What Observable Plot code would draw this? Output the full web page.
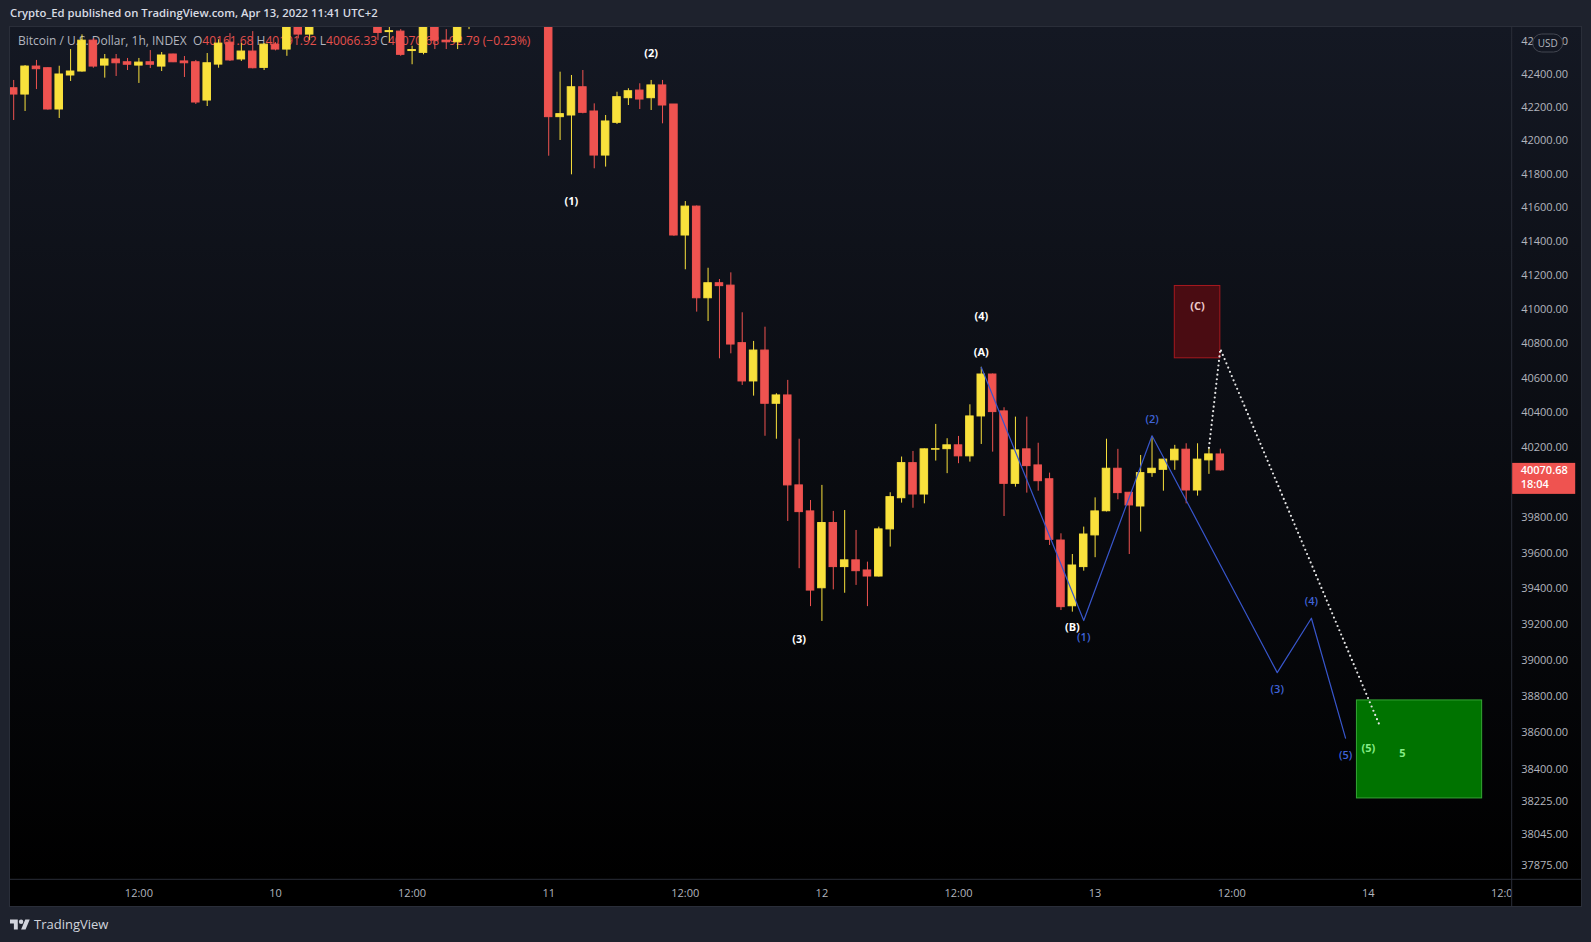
<!DOCTYPE html>
<html>
<head>
<meta charset="utf-8">
<script src="https://cdn.jsdelivr.net/npm/d3@7"></script>
<script src="https://cdn.jsdelivr.net/npm/@observablehq/plot@0.6"></script>
<style>
  html, body { margin: 0; padding: 0; background: #1e222d; width: 1591px; height: 942px; overflow: hidden; font-family: "Open Sans", sans-serif; }
  #header { position: absolute; left: 10px; top: 5px; font-size: 11.3px; font-weight: 600; color: #d8dbe3; white-space: pre; }
  #pane { position: absolute; left: 10px; top: 27px; width: 1571px; height: 879px; background: linear-gradient(#141823 0%, #000000 97%); outline: 1px solid #2a2e39; }
  #legend { position: absolute; left: 8px; top: 5px; font-size: 12px; color: #b2b5be; white-space: pre; }
  #legend .v { color: #e5504c; }
  #chart { position: absolute; left: 0; top: 0; }
  #footer { position: absolute; left: 10px; top: 915px; display: flex; align-items: center; gap: 4px; color: #d1d4dc; font-size: 13px; }
</style>
</head>
<body>
<div id="header">Crypto_Ed published on TradingView.com, Apr 13, 2022 11:41 UTC+2</div>
<div id="pane">
  <div id="legend"></div>
  <div id="chart"></div>
</div>
<div id="footer">
  <svg width="20" height="15" viewBox="0 0 36 26"><path fill="#d1d4dc" d="M14 22H7V11H0V4h14v18zM28 22h-8l7.5-18h8L28 22z"/><circle cx="20" cy="8" r="4" fill="#d1d4dc"/></svg>
  <span>TradingView</span>
</div>
<script>
// ---- Candles: BTC/USD 1h, first candle Apr 9 2022 01:00 (chart time, UTC+2) ----
const firstCandle = "2022-04-09T01:00:00Z";
const open = [
  42314, 42276, 42445, 42435, 42186, 42391, 42415, 42602, 42451, 42488,
  42471, 42451, 42471, 42445, 42518, 42476, 42471, 42240, 42457, 42590,
  42488, 42536, 42437, 42578, 42548, 42720, 42639, 42700, 42760, 42810,
  42740, 42720, 42700, 42654, 42657, 42539, 42528, 42700, 42602, 42592,
  42710, 42760, 42850, 42900, 42840, 42870, 42830, 42850, 42140, 42150,
  42320, 42174, 41910, 42106, 42254, 42300, 42254, 42331, 42216, 41435,
  41606, 41066, 41154, 41140, 40804, 40582, 40761, 40453, 40501, 39985,
  39837, 39403, 39771, 39522, 39560, 39503, 39469, 39735, 39912, 40112,
  39933, 40189, 40192, 40214, 40151, 40380, 40622, 40409, 39994, 40191,
  40099, 40020, 39672, 39302, 39522, 39701, 39838, 40080, 39943, 39865,
  40055, 40074, 40128, 40189, 39956, 40128, 40161.68
];
const high = [
  42361, 42451, 42482, 42437, 42447, 42548, 42637, 42614, 42518, 42518,
  42494, 42494, 42542, 42530, 42520, 42506, 42482, 42524, 42608, 42645,
  42584, 42657, 42584, 42590, 42720, 42760, 42730, 42790, 42840, 42850,
  42780, 42760, 42760, 42690, 42669, 42568, 42720, 42740, 42669, 42730,
  42800, 42880, 42950, 42960, 42900, 42920, 42880, 42870, 42411, 42391,
  42421, 42220, 42150, 42290, 42311, 42341, 42361, 42361, 42216, 41636,
  41610, 41242, 41176, 41215, 40981, 40814, 40897, 40511, 40588, 40249,
  39899, 39985, 39837, 39842, 39729, 39550, 39748, 39943, 40147, 40179,
  40193, 40334, 40252, 40265, 40447, 40664, 40625, 40430, 40376, 40376,
  40226, 40055, 39710, 39593, 39748, 39914, 40249, 40191, 39945, 40156,
  40265, 40134, 40214, 40223, 40223, 40195, 40191.92
];
const low = [
  42120, 42174, 42306, 42182, 42132, 42355, 42411, 42435, 42375, 42385,
  42421, 42343, 42433, 42415, 42469, 42379, 42216, 42204, 42435, 42476,
  42476, 42431, 42421, 42540, 42507, 42613, 42602, 42690, 42730, 42720,
  42685, 42690, 42602, 42592, 42507, 42456, 42516, 42548, 42548, 42548,
  42669, 42740, 42800, 42820, 42780, 42810, 42760, 41906, 42000, 41795,
  42160, 41831, 41841, 42096, 42210, 42186, 42180, 42100, 41430, 41233,
  40985, 40930, 40713, 40742, 40559, 40497, 40266, 40249, 39780, 39513,
  39300, 39217, 39394, 39375, 39419, 39300, 39466, 39635, 39884, 39855,
  39880, 40124, 40052, 40109, 40118, 40219, 40175, 39808, 39975, 39941,
  39952, 39644, 39278, 39269, 39499, 39575, 39834, 39903, 39593, 39720,
  40031, 39952, 40071, 39880, 39924, 40048, 40066.33
];
const close = [
  42276, 42445, 42429, 42186, 42397, 42415, 42602, 42445, 42488, 42465,
  42456, 42469, 42456, 42512, 42471, 42465, 42228, 42465, 42584, 42482,
  42536, 42435, 42578, 42548, 42690, 42639, 42700, 42760, 42810, 42740,
  42720, 42730, 42649, 42660, 42516, 42545, 42690, 42602, 42592, 42690,
  42760, 42850, 42900, 42840, 42870, 42830, 42850, 42140, 42158, 42320,
  42166, 41910, 42114, 42260, 42296, 42246, 42331, 42210, 41435, 41606,
  41066, 41154, 41137, 40796, 40582, 40761, 40453, 40501, 39985, 39833,
  39390, 39771, 39522, 39560, 39499, 39469, 39735, 39918, 40112, 39933,
  40191, 40192, 40214, 40151, 40380, 40622, 40405, 39994, 40185, 40095,
  40009, 39676, 39297, 39531, 39706, 39837, 40080, 39941, 39871, 40055,
  40080, 40132, 40189, 39956, 40132, 40162, 40070.68
];

// ---- Axis ticks ----
const yTicks = [42600, 42400, 42200, 42000, 41800, 41600, 41400, 41200, 41000, 40800, 40600,
  40400, 40200, 39800, 39600, 39400, 39200, 39000, 38800, 38600, 38400, 38225, 38045, 37875];
const xTickHours = [12, 24, 36, 48, 60, 72, 84, 96, 108, 120, 132]; // hours after Apr 9 00:00
const yDomain = [37799, 42682];
const xDomainHours = [0.72, 132.64];

// ---- Elliott wave annotations (hours after Apr 9 00:00, price) ----
const waveHours = [86, 95, 101, 112, 115, 118];
const wavePrices = [40664, 39222, 40269, 38932, 39235, 38570];
const projHours = [106, 107, 121];
const projPrices = [40200, 40770, 38639];
const boxCHours = [103, 107];
const boxCPrices = [40716, 41138];
const box5Hours = [119, 130];
const box5Prices = [38240, 38778];
const whiteText = ["(1)", "(2)", "(3)", "(4)", "(A)", "(B)"];
const whiteHours = [50, 57, 70, 86, 86, 94];
const whitePrices = [41638, 42522, 39115, 40960, 40751, 39185];
const blueText = ["(1)", "(2)", "(3)", "(4)", "(5)"];
const blueHours = [95, 101, 112, 115, 118];
const bluePrices = [39129, 40363, 38837, 39331, 38477];
const greenText = ["(5)", "5"];
const greenHours = [120, 123];
const greenPrices = [38513, 38487];
const cText = ["(C)"];
const cHours = [105];
const cPrices = [41018];

const last = { open: 40161.68, high: 40191.92, low: 40066.33, close: 40070.68, change: -92.79, pct: -0.23, countdown: "18:04" };

// ---- helpers ----
const base = Date.UTC(2022, 3, 9);
const at = h => new Date(base + h * 3600e3);
const t0 = new Date(firstCandle).getTime();
const UP = "#f9e13c", DOWN = "#ef5350";

const candles = open.map((o, i) => ({
  date: new Date(t0 + i * 3600e3), open: o, high: high[i], low: low[i], close: close[i],
  color: close[i] >= o ? UP : DOWN
}));
const half = 0.33 * 3600e3;
const wave = waveHours.map((h, i) => ({ x: at(h), y: wavePrices[i] }));
const proj = projHours.map((h, i) => ({ x: at(h), y: projPrices[i] }));
const lab = (texts, hours, prices) => texts.map((t, i) => ({ t, x: at(hours[i]), y: prices[i] }));

// legend
const fmt = v => v.toFixed(2);
document.getElementById("legend").innerHTML =
  `Bitcoin / U.S. Dollar, 1h, INDEX  O<span class="v">${fmt(last.open)}</span> H<span class="v">${fmt(last.high)}</span> L<span class="v">${fmt(last.low)}</span> C<span class="v">${fmt(last.close)}</span> <span class="v">\u2212${fmt(-last.change)} (\u2212${fmt(-last.pct)}%)</span>`;

const W = 1571, H = 879, MR = 69.3, MB = 26.7;

const plot = Plot.plot({
  width: W, height: H,
  marginLeft: 0, marginRight: MR, marginTop: 0, marginBottom: MB,
  style: { background: "transparent", color: "#b2b5be", fontFamily: "Open Sans, sans-serif", fontSize: "11px" },
  x: { type: "utc", domain: xDomainHours.map(at) },
  y: { type: "log", domain: yDomain },
  color: { type: "identity" },
  marks: [
    Plot.axisX({ ticks: xTickHours.map(at), tickSize: 0, tickPadding: 9, fill: "#b2b5be",
      tickFormat: d => d.getUTCHours() === 0 ? String(d.getUTCDate()) : "12:00" }),
    Plot.axisY({ anchor: "right", ticks: yTicks, tickSize: 0, tickPadding: 9, fill: "#b2b5be", textAnchor: "start",
      tickFormat: d => d.toFixed(2) }),
    // wicks
    Plot.ruleX(candles, { x: "date", y1: "low", y2: "high", stroke: "color", strokeWidth: 1, clip: true }),
    // bodies
    Plot.rect(candles, {
      x1: d => new Date(+d.date - half), x2: d => new Date(+d.date + half),
      y1: "open", y2: "close", fill: "color", stroke: "color", strokeWidth: 1, clip: true
    }),
    // boxes
    Plot.rect([0], { x1: () => at(boxCHours[0]), x2: () => at(boxCHours[1]), y1: () => boxCPrices[0], y2: () => boxCPrices[1],
      fill: "#4a0c12", stroke: "#a8191f", strokeWidth: 1 }),
    Plot.rect([0], { x1: () => at(box5Hours[0]), x2: () => at(box5Hours[1]), y1: () => box5Prices[0], y2: () => box5Prices[1],
      fill: "#007300", stroke: "#35a535", strokeWidth: 1 }),
    // wave path
    Plot.line(wave, { x: "x", y: "y", stroke: "#3856cc", strokeWidth: 1.2 }),
    // projected dotted path
    Plot.line(proj, { x: "x", y: "y", stroke: "#e6e6e6", strokeWidth: 2.2, strokeDasharray: "0,4.6", strokeLinecap: "round" }),
    // labels
    Plot.text(lab(whiteText, whiteHours, whitePrices), { x: "x", y: "y", text: "t", fill: "#ffffff", fontWeight: 700, fontSize: 11 }),
    Plot.text(lab(blueText, blueHours, bluePrices), { x: "x", y: "y", text: "t", fill: "#3f63d8", fontWeight: 600, fontSize: 11 }),
    Plot.text(lab(greenText, greenHours, greenPrices), { x: "x", y: "y", text: "t", fill: "#86ec86", fontWeight: 700, fontSize: 11 }),
    Plot.text(lab(cText, cHours, cPrices), { x: "x", y: "y", text: "t", fill: "#eecaca", fontWeight: 700, fontSize: 11 })
  ]
});
document.getElementById("chart").appendChild(plot);

// ---- decorations using the plot's own scales ----
const svg = d3.select(plot);
const xr = W - MR, yb = H - MB;
const defs = svg.insert("defs", ":first-child");
defs.append("clipPath").attr("id", "xlabclip").append("rect").attr("x", 0).attr("y", 0).attr("width", xr).attr("height", H);
svg.selectAll('[aria-label="x-axis tick label"]').attr("clip-path", "url(#xlabclip)");

svg.append("line").attr("x1", xr).attr("x2", xr).attr("y1", 0).attr("y2", H).attr("stroke", "#2a2e39");
svg.append("line").attr("x1", 0).attr("x2", W).attr("y1", yb).attr("y2", yb).attr("stroke", "#2a2e39");

// current price label
const ys = plot.scale("y");
const yc = ys.apply(last.close);
svg.append("rect").attr("x", xr + 0.5).attr("y", yc - 7).attr("width", 63).attr("height", 31).attr("fill", "#ef5350");
svg.append("text").attr("x", xr + 9).attr("y", yc).attr("dy", "0.35em").attr("fill", "#ffffff").attr("text-anchor", "start")
  .attr("font-size", 11).attr("font-weight", 600).text(fmt(last.close));
svg.append("text").attr("x", xr + 9).attr("y", yc + 14).attr("dy", "0.35em").attr("fill", "#ffffff").attr("text-anchor", "start")
  .attr("font-size", 11).attr("font-weight", 600).text(last.countdown);

// USD pill
svg.append("rect").attr("x", xr + 21).attr("y", 7).attr("width", 30).attr("height", 18).attr("rx", 9)
  .attr("fill", "#131722").attr("stroke", "#434651");
svg.append("text").attr("x", xr + 36).attr("y", 16).attr("dy", "0.35em").attr("text-anchor", "middle")
  .attr("fill", "#b2b5be").attr("font-size", 10).text("USD");
</script>
</body>
</html>
